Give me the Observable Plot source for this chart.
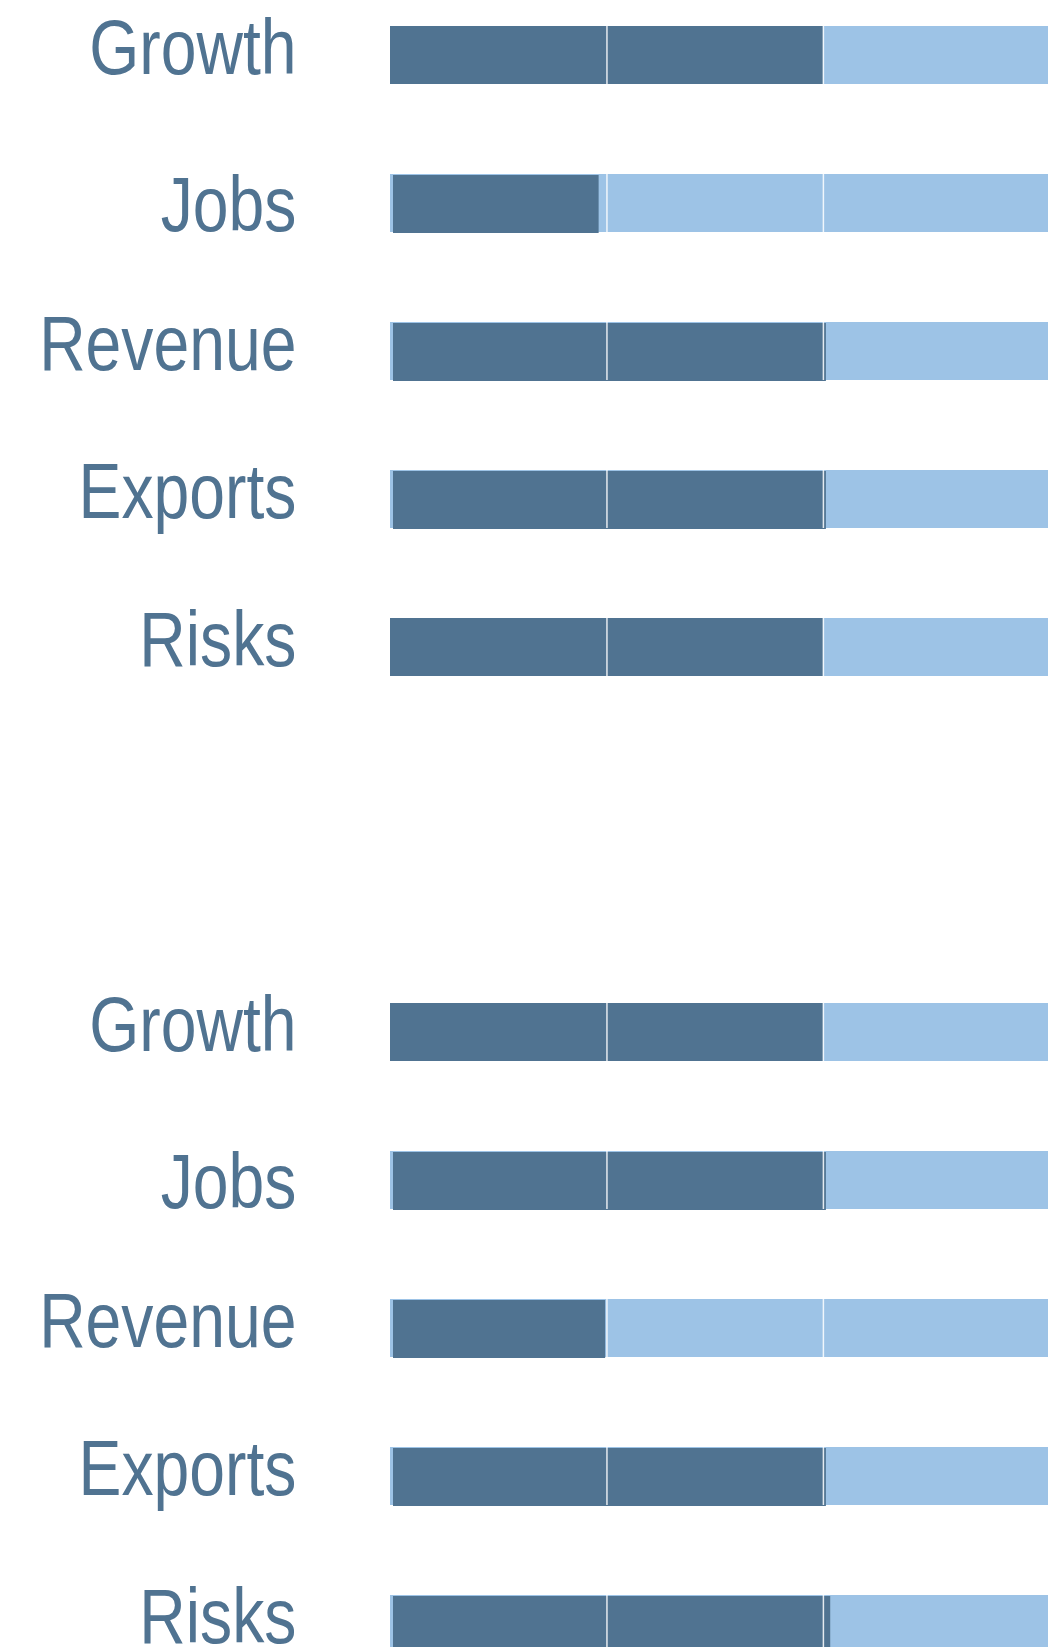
<!DOCTYPE html>
<html>
<head>
<meta charset="utf-8">
<script src="https://cdn.jsdelivr.net/npm/d3@7"></script>
<script src="https://cdn.jsdelivr.net/npm/@observablehq/plot@0.6"></script>
<style>
  html, body { margin: 0; padding: 0; background: #ffffff; }
  #chart svg { display: block; }
</style>
</head>
<body>
<div id="chart"></div>
<script>
// ---- data ----
const categories = ["Growth", "Jobs", "Revenue", "Exports", "Risks"];
const panels = ["Panel 1", "Panel 2"];
const measuresPanel1 = [2, 0.95, 2, 2, 2];
const measuresPanel2 = [2, 2, 0.98, 2, 2.02];
const rangeBreaks = [1, 2];
const rangeMax = 3.04;

// ---- rendering ----
const DARK = "#507391";
const LIGHT = "#9dc3e6";
const FONT = "'Liberation Sans', Arial, sans-serif";
// bars drawn with a small marker nudge in the reference
const nudged = new Set(["Panel 1|Jobs", "Panel 1|Revenue", "Panel 1|Exports",
                        "Panel 2|Jobs", "Panel 2|Revenue", "Panel 2|Exports", "Panel 2|Risks"]);
// label sitting a little lower in the reference
const loweredLabels = new Set(["Jobs"]);

function panel(name, measures, marginTop) {
  const rows = categories.map((c, i) => ({category: c, value: measures[i], nudge: nudged.has(name + "|" + c)}));
  const breaks = rows.flatMap(d => rangeBreaks.map(b => ({category: d.category, at: b})));
  const labelOpts = {
    y: "category", text: "category", frameAnchor: "left", textAnchor: "end",
    dx: -94, fontSize: 77, fill: DARK, fontFamily: FONT, className: "lbl"
  };
  const svg = Plot.plot({
    width: 1061,
    height: marginTop + 702,
    marginTop: marginTop,
    marginBottom: 0,
    marginLeft: 390,
    marginRight: 13,
    x: {domain: [0, rangeMax], axis: null},
    y: {domain: categories, paddingInner: 0.609, paddingOuter: 0.168, axis: null},
    style: {background: "#ffffff", fontFamily: FONT},
    marks: [
      Plot.barX(rows, {y: "category", x1: 0, x2: rangeMax, fill: LIGHT}),
      Plot.barX(rows.filter(d => !d.nudge), {y: "category", x1: 0, x2: "value", fill: DARK}),
      Plot.barX(rows.filter(d => d.nudge), {y: "category", x1: 0, x2: "value", fill: DARK, dx: 3, dy: 1}),
      Plot.tickX(breaks, {x: "at", y: "category", stroke: "#ffffff", strokeWidth: 1.5, strokeOpacity: 0.85}),
      Plot.text(rows.filter(d => !loweredLabels.has(d.category)), {...labelOpts, dy: -6}),
      Plot.text(rows.filter(d => loweredLabels.has(d.category)), {...labelOpts, dy: 3})
    ]
  });
  // condensed letterforms, as in the reference
  svg.querySelectorAll(".lbl text").forEach(t => {
    const tr = t.getAttribute("transform") || "";
    t.setAttribute("transform", tr + " scale(0.835,1)");
  });
  return svg;
}

const root = document.getElementById("chart");
root.appendChild(panel(panels[0], measuresPanel1, 0));
root.appendChild(panel(panels[1], measuresPanel2, 275));
</script>
</body>
</html>
